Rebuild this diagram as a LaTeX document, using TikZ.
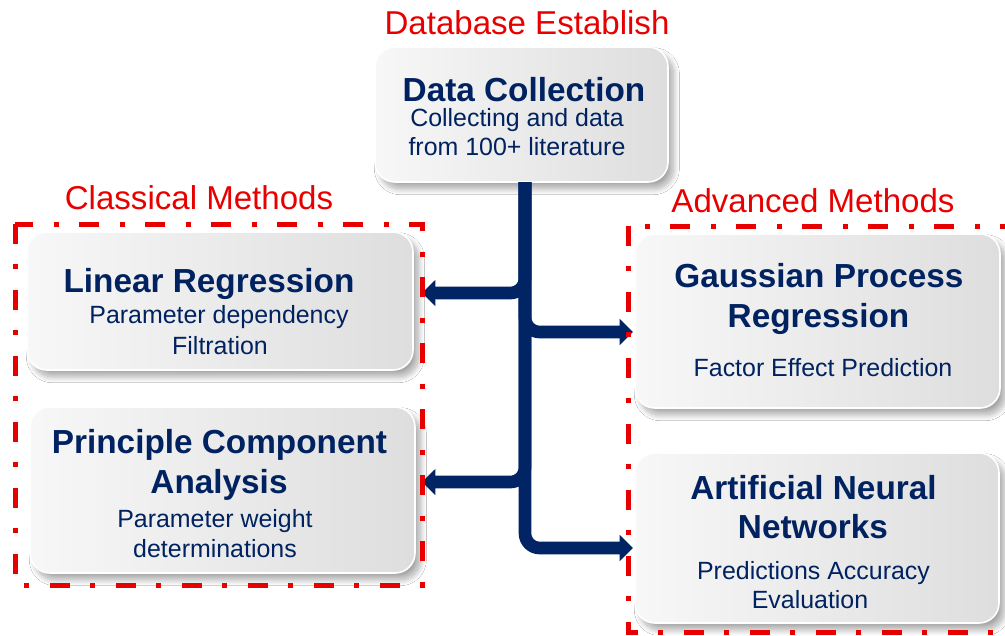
\documentclass[tikz,border=0pt]{standalone}
\usepackage{fontspec}
\setmainfont{Liberation Sans}
\usetikzlibrary{arrows.meta,shadows.blur,fit}
\definecolor{navy}{RGB}{0,34,96}
\definecolor{arrowblue}{RGB}{0,36,100}
\definecolor{myred}{RGB}{232,0,0}
\begin{document}
\begin{tikzpicture}[x=0.75pt,y=-0.75pt,
  box/.style={draw=white, line width=1.2pt, rounded corners=15pt, inner sep=0pt,
    left color=white!97!black, right color=white!87!black,
    blur shadow={shadow xshift=4pt, shadow yshift=-5pt, shadow blur steps=16,
      shadow blur radius=4.5pt, shadow opacity=35}},
  frame/.style={draw=myred, line width=3.75pt,
    dash pattern=on 15pt off 15pt on 4pt off 15.5pt},
  title/.style={text=navy, font=\fontsize{25}{30}\selectfont\bfseries, anchor=base, inner sep=0pt},
  sub/.style={text=navy, font=\fontsize{18.7}{22}\selectfont, anchor=base, inner sep=0pt},
  heading/.style={text=myred, font=\fontsize{24.8}{30}\selectfont, anchor=base, inner sep=0pt},
  conn/.style={draw=arrowblue, line width=9.5pt, rounded corners=11pt,
    -{Triangle[length=10pt,width=19pt]}}]
\useasboundingbox (0,0) rectangle (1005,635);
\fill[white] (0,0) rectangle (1005,635);

% boxes
\node[box, fit={(375,47) (668,182)}] (dc) {};
\node[box, fit={(27,232) (413,370)}] (lr) {};
\node[box, fit={(30,407) (415,573)}] (pca) {};
\node[box, fit={(635,234) (1000,408)}] (gpr) {};
\node[box, fit={(635,453) (999,623)}] (ann) {};

% headings
\node[heading] (hdb) at (527,35) {Database Establish};
\node[heading] (hcl) at (199,209) {Classical Methods};
\node[heading] (hadv) at (813,212) {Advanced Methods};

% Data Collection text
\node[title] (dct) at (524,101) {Data Collection};
\node[sub] (dcs1) at (517,126) {Collecting and data};
\node[sub] (dcs2) at (517,155) {from 100+ literature};

% Linear Regression text
\node[title] (lrt) at (209,292) {Linear Regression};
\node[sub] (lrs1) at (219,323) {Parameter dependency};
\node[sub] (lrs2) at (220,354) {Filtration};

% PCA text
\node[title] (pcat1) at (219.5,453) {Principle Component};
\node[title] (pcat2) at (219,493) {Analysis};
\node[sub] (pcas1) at (215,527) {Parameter weight};
\node[sub] (pcas2) at (215,557) {determinations};

% GPR text
\node[title] (gprt1) at (819,287) {Gaussian Process};
\node[title] (gprt2) at (818.5,327) {Regression};
\node[sub] (gprs) at (823,376) {Factor Effect Prediction};

% ANN text
\node[title] (annt1) at (813.5,499) {Artificial Neural};
\node[title] (annt2) at (813,538) {Networks};
\node[sub] (anns1) at (813.5,579) {Predictions Accuracy};
\node[sub] (anns2) at (810,608) {Evaluation};

% connectors
\coordinate (j) at (525,182);
\coordinate (lrin) at (422,293);
\coordinate (gprin) at (633,332);
\coordinate (pcain) at (422,482);
\coordinate (annin) at (633,548);
\draw[conn] (j) |- (annin);
\draw[conn] (j) |- (lrin);
\draw[conn] (j) |- (gprin);
\draw[conn] (j) |- (pcain);

% dashed frames
\draw[frame] (15,224) rectangle (422,585);
\begin{scope}
  \clip (0,0) rectangle (1005,635);
  \draw[frame] (628,226) rectangle (1012,632);
\end{scope}
\end{tikzpicture}
\end{document}
